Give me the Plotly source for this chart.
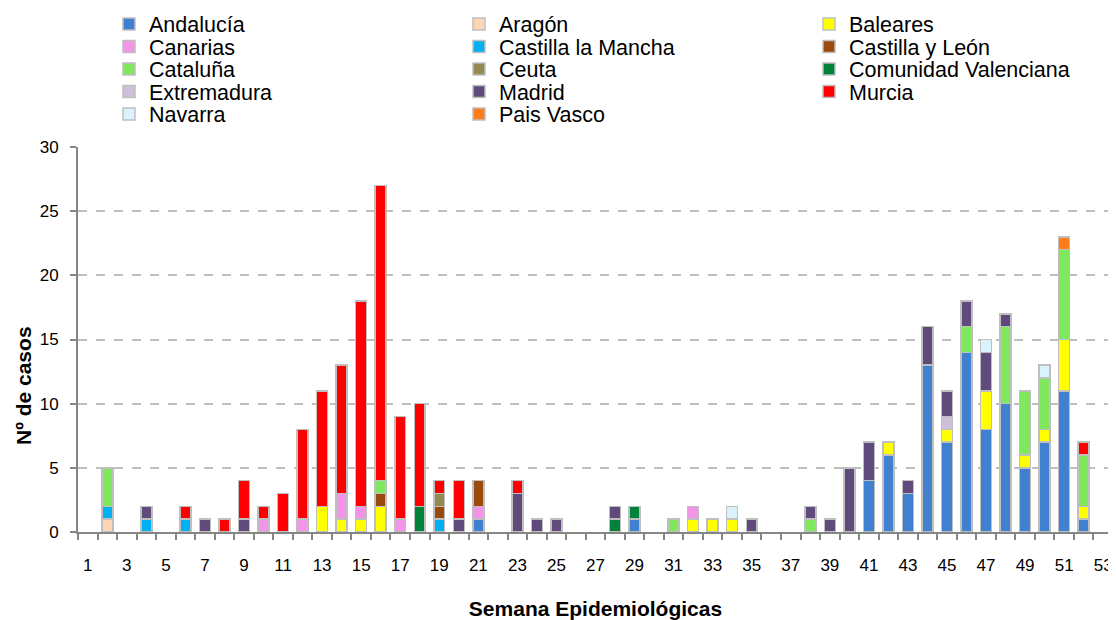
import plotly.graph_objects as go

weeks = list(range(1, 54))
tick_weeks = list(range(1, 54, 2))

regions = [
    "Andalucía", "Aragón", "Baleares",
    "Canarias", "Castilla la Mancha", "Castilla y León",
    "Cataluña", "Ceuta", "Comunidad Valenciana",
    "Extremadura", "Madrid", "Murcia",
    "Navarra", "Pais Vasco",
]
colors = [
    "#3F80CF", "#FCD5B4", "#FFFF00",
    "#F294E8", "#00B0F0", "#9A4A0C",
    "#80E85C", "#948A54", "#00823B",
    "#CCC0DA", "#604A7B", "#FF0000",
    "#DAF2FB", "#FF7C1A",
]

# cases per epidemiological week (weeks 1..53)
andalucia = [0, 0, 0, 0, 0, 0, 0, 0, 0, 0,
             0, 0, 0, 0, 0, 0, 0, 0, 0, 0,
             1, 0, 0, 0, 0, 0, 0, 0, 1, 0,
             0, 0, 0, 0, 0, 0, 0, 0, 0, 0,
             4, 6, 3, 13, 7, 14, 8, 10, 5, 7,
             11, 1, 0]
aragon = [0, 1, 0, 0, 0, 0, 0, 0, 0, 0,
          0, 0, 0, 0, 0, 0, 0, 0, 0, 0,
          0, 0, 0, 0, 0, 0, 0, 0, 0, 0,
          0, 0, 0, 0, 0, 0, 0, 0, 0, 0,
          0, 0, 0, 0, 0, 0, 0, 0, 0, 0,
          0, 0, 0]
baleares = [0, 0, 0, 0, 0, 0, 0, 0, 0, 0,
            0, 0, 2, 1, 1, 2, 0, 0, 0, 0,
            0, 0, 0, 0, 0, 0, 0, 0, 0, 0,
            0, 1, 1, 1, 0, 0, 0, 0, 0, 0,
            0, 1, 0, 0, 1, 0, 3, 0, 1, 1,
            4, 1, 0]
canarias = [0, 0, 0, 0, 0, 0, 0, 0, 0, 1,
            0, 1, 0, 2, 1, 0, 1, 0, 0, 0,
            1, 0, 0, 0, 0, 0, 0, 0, 0, 0,
            0, 1, 0, 0, 0, 0, 0, 0, 0, 0,
            0, 0, 0, 0, 0, 0, 0, 0, 0, 0,
            0, 0, 0]
castilla_la_mancha = [0, 1, 0, 1, 0, 1, 0, 0, 0, 0,
                      0, 0, 0, 0, 0, 0, 0, 0, 1, 0,
                      0, 0, 0, 0, 0, 0, 0, 0, 0, 0,
                      0, 0, 0, 0, 0, 0, 0, 0, 0, 0,
                      0, 0, 0, 0, 0, 0, 0, 0, 0, 0,
                      0, 0, 0]
castilla_y_leon = [0, 0, 0, 0, 0, 0, 0, 0, 0, 0,
                   0, 0, 0, 0, 0, 1, 0, 0, 1, 0,
                   2, 0, 0, 0, 0, 0, 0, 0, 0, 0,
                   0, 0, 0, 0, 0, 0, 0, 0, 0, 0,
                   0, 0, 0, 0, 0, 0, 0, 0, 0, 0,
                   0, 0, 0]
cataluna = [0, 3, 0, 0, 0, 0, 0, 0, 0, 0,
            0, 0, 0, 0, 0, 1, 0, 0, 0, 0,
            0, 0, 0, 0, 0, 0, 0, 0, 0, 0,
            1, 0, 0, 0, 0, 0, 0, 1, 0, 0,
            0, 0, 0, 0, 0, 2, 0, 6, 5, 4,
            7, 4, 0]
ceuta = [0, 0, 0, 0, 0, 0, 0, 0, 0, 0,
         0, 0, 0, 0, 0, 0, 0, 0, 1, 0,
         0, 0, 0, 0, 0, 0, 0, 0, 0, 0,
         0, 0, 0, 0, 0, 0, 0, 0, 0, 0,
         0, 0, 0, 0, 0, 0, 0, 0, 0, 0,
         0, 0, 0]
comunidad_valenciana = [0, 0, 0, 0, 0, 0, 0, 0, 0, 0,
                        0, 0, 0, 0, 0, 0, 0, 2, 0, 0,
                        0, 0, 0, 0, 0, 0, 0, 1, 1, 0,
                        0, 0, 0, 0, 0, 0, 0, 0, 0, 0,
                        0, 0, 0, 0, 0, 0, 0, 0, 0, 0,
                        0, 0, 0]
extremadura = [0, 0, 0, 0, 0, 0, 0, 0, 0, 0,
               0, 0, 0, 0, 0, 0, 0, 0, 0, 0,
               0, 0, 0, 0, 0, 0, 0, 0, 0, 0,
               0, 0, 0, 0, 0, 0, 0, 0, 0, 0,
               0, 0, 0, 0, 1, 0, 0, 0, 0, 0,
               0, 0, 0]
madrid = [0, 0, 0, 1, 0, 0, 1, 0, 1, 0,
          0, 0, 0, 0, 0, 0, 0, 0, 0, 1,
          0, 0, 3, 1, 1, 0, 0, 1, 0, 0,
          0, 0, 0, 0, 1, 0, 0, 1, 1, 5,
          3, 0, 1, 3, 2, 2, 3, 1, 0, 0,
          0, 0, 0]
murcia = [0, 0, 0, 0, 0, 1, 0, 1, 3, 1,
          3, 7, 9, 10, 16, 23, 8, 8, 1, 3,
          0, 0, 1, 0, 0, 0, 0, 0, 0, 0,
          0, 0, 0, 0, 0, 0, 0, 0, 0, 0,
          0, 0, 0, 0, 0, 0, 0, 0, 0, 0,
          0, 1, 0]
navarra = [0, 0, 0, 0, 0, 0, 0, 0, 0, 0,
           0, 0, 0, 0, 0, 0, 0, 0, 0, 0,
           0, 0, 0, 0, 0, 0, 0, 0, 0, 0,
           0, 0, 0, 1, 0, 0, 0, 0, 0, 0,
           0, 0, 0, 0, 0, 0, 1, 0, 0, 1,
           0, 0, 0]
pais_vasco = [0, 0, 0, 0, 0, 0, 0, 0, 0, 0,
              0, 0, 0, 0, 0, 0, 0, 0, 0, 0,
              0, 0, 0, 0, 0, 0, 0, 0, 0, 0,
              0, 0, 0, 0, 0, 0, 0, 0, 0, 0,
              0, 0, 0, 0, 0, 0, 0, 0, 0, 0,
              1, 0, 0]

series = [
    andalucia, aragon, baleares,
    canarias, castilla_la_mancha, castilla_y_leon,
    cataluna, ceuta, comunidad_valenciana,
    extremadura, madrid, murcia,
    navarra, pais_vasco,
]

FONT = "Arial, Liberation Sans, sans-serif"
# the page body has an 8px margin, so the figure is shrunk to fit the window
W, H = 1108, 612
M_L, M_R, M_T, M_B = 70, 3, 139, 88
plot_w = W - M_L - M_R
plot_h = H - M_T - M_B

fig = go.Figure()

legends = {}
for i, (name, vals, col) in enumerate(zip(regions, series, colors)):
    key = "legend" if i == 0 else f"legend{i + 1}"
    fig.add_trace(
        go.Bar(
            x=weeks,
            y=[v if v else None for v in vals],
            name=name,
            width=0.56,
            marker=dict(color=col, line=dict(color="#BFBFBF", width=1.5)),
            legend=key,
            hovertemplate=f"{name}<br>Semana %{{x}}: %{{y}}<extra></extra>",
        )
    )
    # one small legend per entry, laid out in a 3-column grid above the plot
    row, c = divmod(i, 3)
    px = 101 + c * 350
    py = 16 + row * 22.5
    legends[key] = dict(
        x=(px - M_L) / plot_w,
        y=(H - M_B - py) / plot_h,
        xanchor="left",
        yanchor="middle",
        bgcolor="rgba(0,0,0,0)",
        font=dict(family=FONT, size=21.5, color="black"),
        borderwidth=0,
    )

fig.update_layout(
    width=W,
    height=H,
    barmode="stack",
    showlegend=True,
    plot_bgcolor="white",
    paper_bgcolor="white",
    font=dict(family=FONT, color="black"),
    margin=dict(l=M_L, r=M_R, t=M_T, b=M_B, autoexpand=False),
    **legends,
)

fig.update_xaxes(
    range=[0.5, 53.5],
    tickmode="array",
    tickvals=tick_weeks,
    ticktext=[str(w) for w in tick_weeks],
    ticks="",
    ticklabelstandoff=17,
    tickfont=dict(size=17, family=FONT, color="black"),
    minor=dict(ticks="outside", tick0=0.5, dtick=1, ticklen=6,
               tickwidth=1.5, tickcolor="#868686", showgrid=False),
    showline=True,
    linecolor="#868686",
    linewidth=2,
    showgrid=False,
    zeroline=False,
    title=dict(text="<b>Semana Epidemiológicas</b>",
               font=dict(size=21, family=FONT, color="black"), standoff=28),
)
fig.update_yaxes(
    range=[0, 30],
    tickvals=[0, 5, 10, 15, 20, 25, 30],
    ticks="outside",
    ticklen=6,
    tickwidth=1.5,
    tickcolor="#868686",
    ticklabelstandoff=8,
    tickfont=dict(size=17, family=FONT, color="black"),
    showline=True,
    linecolor="#868686",
    linewidth=2,
    showgrid=True,
    gridcolor="#BFBFBF",
    gridwidth=1.5,
    griddash="dash",
    zeroline=False,
)

# y title sits a bit below the plot's middle, as in the original
fig.add_annotation(
    text="<b>Nº de casos</b>",
    textangle=-90,
    xref="paper", yref="paper",
    x=(15 - M_L) / plot_w, y=(H - M_B - 378) / plot_h,
    xanchor="center", yanchor="middle",
    showarrow=False,
    font=dict(size=21, family=FONT, color="black"),
)

fig.write_html("out.html")
